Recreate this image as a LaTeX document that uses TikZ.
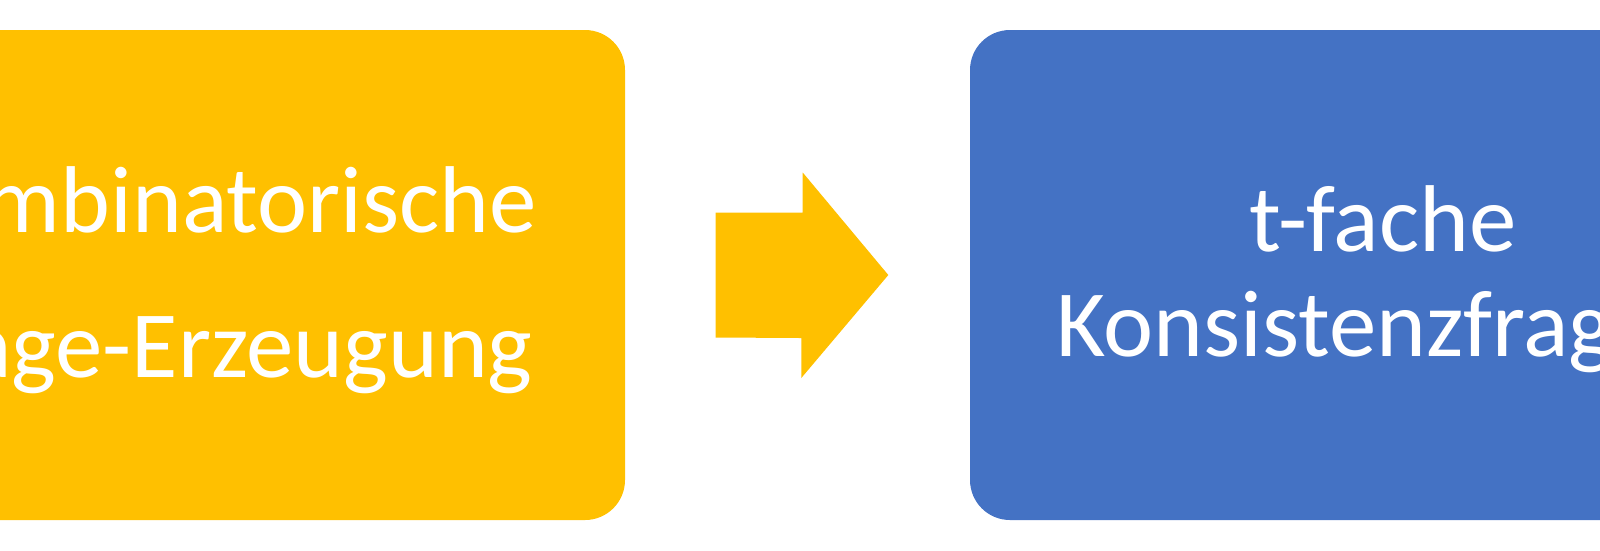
\documentclass[tikz,border=0pt]{standalone}
\usepackage{fontspec}
\setmainfont{Carlito}
\usetikzlibrary{calc}

\definecolor{kgelb}{HTML}{FFC000}
\definecolor{kblau}{HTML}{4472C4}

\begin{document}
\begin{tikzpicture}[scale=1,
    box/.style={rectangle, rounded corners=0.4cm, minimum width=8.26cm, minimum height=4.9cm, inner sep=0pt},
    boxtext/.style={text=white, inner sep=0pt, align=center}]
  % \draw (0, 0) grid (16, 5.5);
  \path[use as bounding box, clip] (0,0) rectangle (16,5.5);

  \node[box, fill=kgelb] (anfrage) at (2.12,2.75) {};
  \node[box, fill=kblau] (konsistenz) at (13.83,2.75) {};

  \node[boxtext, font=\fontsize{27}{41.1}\selectfont]
    (anfragetext) at ([yshift=-0.05cm]anfrage.center) {Kombinatorische\\Frage-Erzeugung};
  \node[boxtext, font=\fontsize{27}{29.8}\selectfont]
    (konsistenztext) at ([yshift=-0.04cm]konsistenz.center) {t-fache\\Konsistenzfragen};

  \coordinate (pfeilstart) at ([xshift=0.9cm]anfrage.east);
  \coordinate (pfeilende) at ([xshift=-0.81cm]konsistenz.west);
  \fill[kgelb] ([yshift=0.625cm]pfeilstart) -- ++(0.87,0) -- ++(0,0.40) -- (pfeilende)
    -- ++(-0.87,-1.03) -- ++(0,0.40) -- ([yshift=-0.625cm]pfeilstart) -- cycle;
\end{tikzpicture}
\end{document}
